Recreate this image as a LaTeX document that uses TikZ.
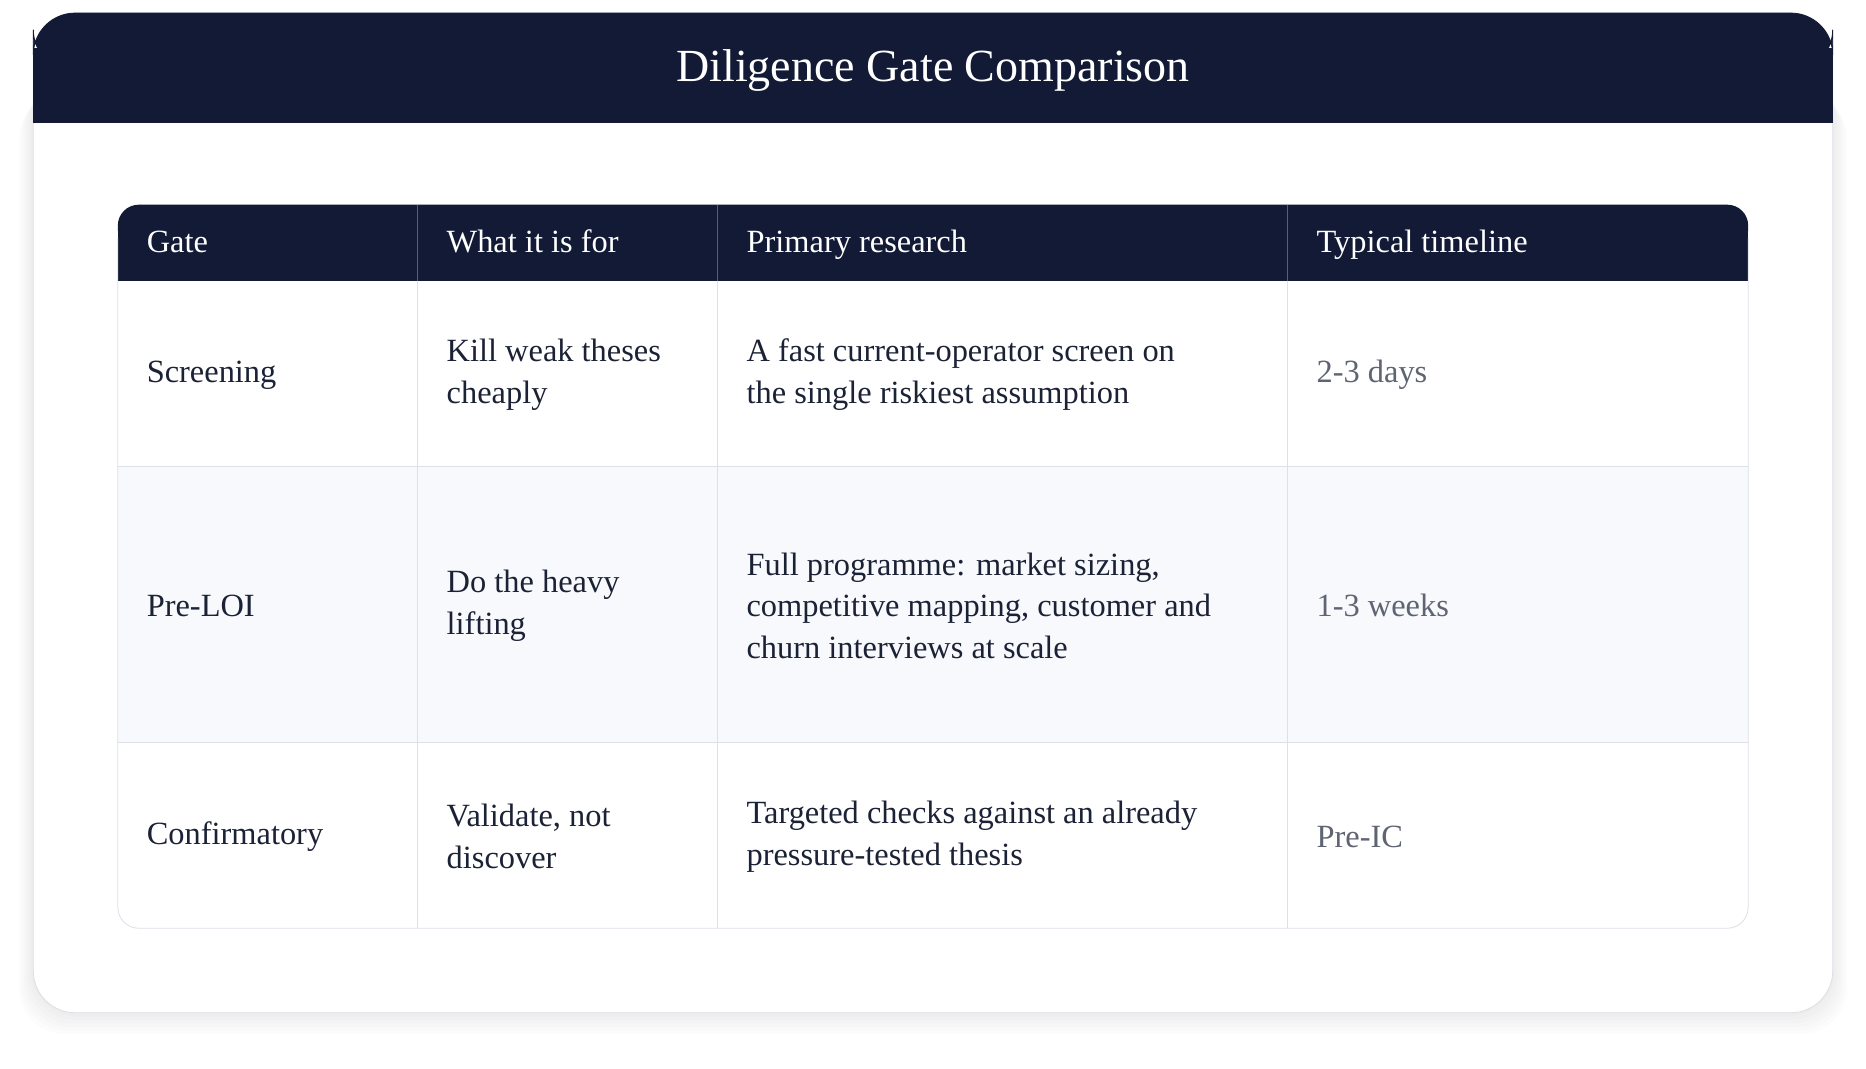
\documentclass[tikz,border=0pt]{standalone}
\usepackage{fontspec}
\setmainfont{Liberation Serif}
\usetikzlibrary{positioning}
\definecolor{navy}{HTML}{121A35}
\definecolor{rule}{HTML}{DCE0E8}
\definecolor{stripe}{HTML}{F7F9FC}
\definecolor{ink}{HTML}{1C2236}
\definecolor{muted}{HTML}{5E6472}
\tikzset{
  cell/.style={anchor=west,align=left,inner sep=0pt,text=ink,
    font=\fontsize{15.5}{20}\selectfont},
  head/.style={cell,text=white,text height=11pt,text depth=3pt},
  time/.style={cell,text=muted}
}
\begin{document}
\begin{tikzpicture}[x=0.02cm,y=-0.02cm]
  \useasboundingbox[fill=white] (0,0) rectangle (1568,898);
  % card and shadow
  \foreach \i in {1,...,6}
    \fill[black,opacity=0.012,rounded corners=22] (28-\i*2,60+\i*3) rectangle (1540+\i*2,851+\i*3);
  \fill[white,draw=rule,rounded corners=20] (28,11) rectangle (1540,851);
  \filldraw[navy,rounded corners=20] (28,11) rectangle (1540,60);
  \fill[navy] (28,40) rectangle (1540,103);
  \node[text=white,font=\fontsize{22}{26}\selectfont] (title) at (784,59) {Diligence Gate Comparison};
  % table
  \fill[stripe] (99,392) rectangle (1469,624);
  \fill[navy,rounded corners=10] (99,172) rectangle (1469,210);
  \fill[navy] (99,195) rectangle (1469,236);
  \draw[rule,rounded corners=10] (99,200) -- (99,780) -- (1469,780) -- (1469,200);
  \foreach \y in {392,624} \draw[rule] (99,\y) -- (1469,\y);
  \foreach \x in {351,603,1082} {
    \draw[rule] (\x,236) -- (\x,780);
    \draw[white!30!navy] (\x,172) -- (\x,236);
  }
  % header row
  \node[head] (hgate) at (123,205) {Gate};
  \node[head] (hfor) at (375,205) {What it is for};
  \node[head] (hres) at (627,205) {Primary research};
  \node[head] (htime) at (1106,205) {Typical timeline};
  % rows
  \node[cell] (gate1) at (123,315) {Screening};
  \node[cell] (for1) at (375,315) {Kill weak theses\\cheaply};
  \node[cell] (res1) at (627,315) {A fast current-operator screen on\\the single riskiest assumption};
  \node[time] (time1) at (1106,315) {2-3 days};
  \node[cell] (gate2) at (123,509) {Pre-LOI};
  \node[cell] (for2) at (375,509) {Do the heavy\\lifting};
  \node[cell] (res2) at (627,509) {Full programme: market sizing,\\competitive mapping, customer and\\churn interviews at scale};
  \node[time] (time2) at (1106,509) {1-3 weeks};
  \node[cell] (gate3) at (123,703) {Confirmatory};
  \node[cell] (for3) at (375,703) {Validate, not\\discover};
  \node[cell] (res3) at (627,703) {Targeted checks against an already\\pressure-tested thesis};
  \node[time] (time3) at (1106,703) {Pre-IC};
\end{tikzpicture}
\end{document}
